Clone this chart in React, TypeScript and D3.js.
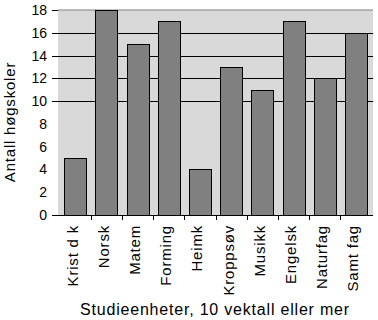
import React from "react";
import * as d3 from "d3";

const categories = ["Krist d k", "Norsk", "Matem", "Forming", "Heimk", "Kroppsøv", "Musikk", "Engelsk", "Naturfag", "Samt fag"];
const values = [5, 18, 15, 17, 4, 13, 11, 17, 12, 16];
const yTicks = [0, 10, 12, 14, 16, 18];
const gridTicks = [10, 12, 14, 16];
const yLabelTicks = [0, 2, 4, 6, 8, 10, 12, 14, 16, 18];
const yTitle = "Antall høgskoler";
const xTitle = "Studieenheter, 10 vektall eller mer";

const W = 378, H = 320;
const left = 58, right = 373, top = 10, bottom = 215;
const FONT = "'Liberation Sans', Arial, sans-serif";

export default function App() {
  const x = d3.scaleBand<string>().domain(categories).range([left, right]).paddingInner(0.3).paddingOuter(0.2);
  const y = d3.scaleLinear().domain([0, 18]).range([bottom, top]);
  const step = x.step();
  const boundaries = categories.slice(1).map((c) => (x(c) as number) - (step * 0.3) / 2);

  return (
    <svg width={W} height={H} style={{ position: "absolute", left: 0, top: 0, background: "#fff" }}>
      <rect x={left} y={top} width={right - left} height={bottom - top} fill="#d9d9d9" />
      <line x1={left} x2={right} y1={y(18)} y2={y(18)} stroke="#808080" strokeWidth={1} />
      {gridTicks.map((t) => (
        <line key={"g" + t} x1={left} x2={right} y1={Math.round(y(t)) + 0.5} y2={Math.round(y(t)) + 0.5} stroke="#000" strokeWidth={1} />
      ))}
      {categories.map((c, i) => (
        <rect
          key={c}
          x={Math.round(x(c) as number) + 0.5}
          y={Math.round(y(values[i])) + 0.5}
          width={Math.round(x.bandwidth())}
          height={Math.round(y(0)) - Math.round(y(values[i]))}
          fill="#808080"
          stroke="#000"
          strokeWidth={1}
        />
      ))}
      <line x1={53} x2={right} y1={Math.round(y(0)) + 0.5} y2={Math.round(y(0)) + 0.5} stroke="#000" strokeWidth={1} />
      {yTicks.map((t) => (
        <line key={"t" + t} x1={52} x2={left} y1={Math.round(y(t)) + 0.5} y2={Math.round(y(t)) + 0.5} stroke="#000" strokeWidth={1} />
      ))}
      {yLabelTicks.map((t) => (
        <text key={"l" + t} x={47} y={y(t) + 5} textAnchor="end" fontFamily={FONT} fontSize={14} fill="#000">
          {t}
        </text>
      ))}
      {boundaries.map((b, i) => (
        <line key={"b" + i} x1={Math.round(b) + 0.5} x2={Math.round(b) + 0.5} y1={bottom} y2={bottom + 5} stroke="#000" strokeWidth={1} />
      ))}
      {categories.map((c) => {
        const cx = (x(c) as number) + x.bandwidth() / 2 + 2.5;
        return (
          <text
            key={"x" + c}
            transform={`translate(${cx},${225}) rotate(-90)`}
            textAnchor="end"
            fontFamily={FONT}
            fontSize={15}
            letterSpacing={0.8}
            fill="#000"
          >
            {c}
          </text>
        );
      })}
      <text
        transform={`translate(15,${122}) rotate(-90)`}
        textAnchor="middle"
        fontFamily={FONT}
        fontSize={15}
        letterSpacing={0.8}
        fill="#000"
      >
        {yTitle}
      </text>
      <text x={215} y={315} textAnchor="middle" fontFamily={FONT} fontSize={16} letterSpacing={0.8} fill="#000">
        {xTitle}
      </text>
    </svg>
  );
}
